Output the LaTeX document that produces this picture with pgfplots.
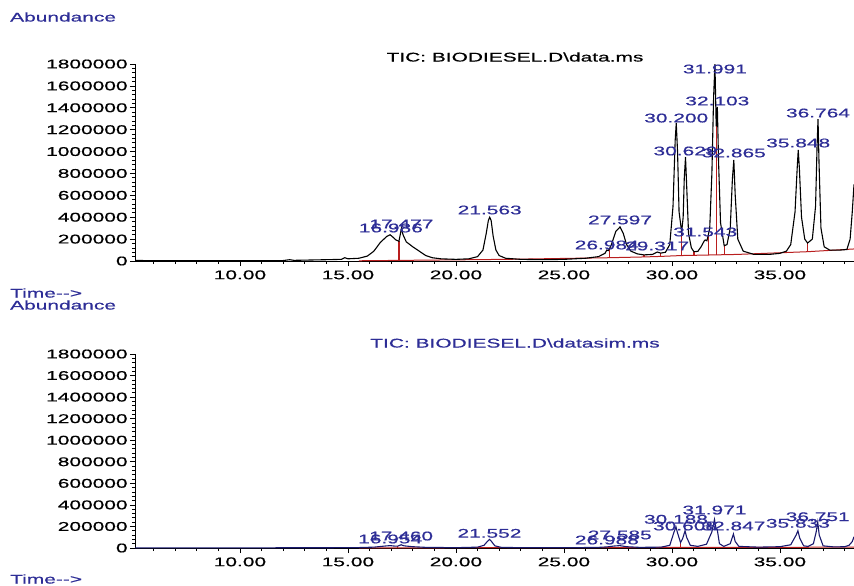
\documentclass[border=0pt]{standalone}
\usepackage{fontspec}
\setmainfont{Liberation Sans}[FakeStretch=1.66, FakeBold=0.6]
\usepackage{pgfplots}
\pgfplotsset{compat=1.18}
\definecolor{txtblue}{RGB}{45,45,150}
\definecolor{trblue}{RGB}{25,25,110}
\definecolor{intred}{RGB}{185,30,30}
\tikzset{lbl/.style={text=txtblue, inner sep=0pt, font=\fontsize{12.6}{15}\selectfont}}
\pgfplotsset{chrom/.style={
  scale only axis, width=719pt,
  xmin=5.14, xmax=38.43, ymin=0, ymax=1800000,
  axis x line=bottom, axis y line=left,
  axis line style={-, black, line width=0.8pt},
  xtick={10,15,20,25,30,35},
  xticklabels={10.00,15.00,20.00,25.00,30.00,35.00},
  minor xtick={6,7,8,9,11,12,13,14,16,17,18,19,21,22,23,24,26,27,28,29,31,32,33,34,36,37,38},
  ytick={0,200000,400000,600000,800000,1000000,1200000,1400000,1600000,1800000},
  yticklabels={0,200000,400000,600000,800000,1000000,1200000,1400000,1600000,1800000},
  minor y tick num=4,
  scaled y ticks=false,
  tick align=outside, major tick length=5pt, minor tick length=3pt,
  every tick/.style={black, line width=0.7pt},
  ticklabel style={font=\fontsize{12.6}{15}\selectfont, text=black},
  yticklabel style={xshift=2pt},
  /pgf/number format/assume math mode=true,
  clip mode=individual,
}}
\begin{document}
\fontsize{12.6}{15}\selectfont
\begin{tikzpicture}
\useasboundingbox (0,0) rectangle (854pt,-586pt);
\node[anchor=west, text=txtblue, inner sep=0pt] at (10pt,-17pt) {Abundance};
\node[anchor=west, text=txtblue, inner sep=0pt] at (10pt,-293pt) {Time-{}-{}>};
\node[anchor=west, text=txtblue, inner sep=0pt] at (10pt,-305pt) {Abundance};
\node[anchor=west, text=txtblue, inner sep=0pt] at (10pt,-579pt) {Time-{}-{}>};
\node[text=black, inner sep=0pt] at (515pt,-57pt) {TIC: BIODIESEL.D\textbackslash data.ms};
\node[text=txtblue, inner sep=0pt] at (515pt,-343pt) {TIC: BIODIESEL.D\textbackslash datasim.ms};

% ---------- top panel ----------
\begin{axis}[chrom, at={(135pt,-261pt)}, anchor=south west, height=197pt]
\addplot[intred, line width=1pt] coordinates {
 (15.5,2000) (22.3,15000) (27.1,30000) (28.7,37000) (29.48,42000) (30.45,50000)
 (31.02,52000) (33,60000) (36.28,85000) (38.43,110000)};
\addplot[intred, line width=1.3pt, unbounded coords=jump] coordinates {
 (17.36,5000) (17.36,180000) (17.36,nan)
 (27.1,30000) (27.1,110000) (27.1,nan)
 (28.7,37000) (28.7,56000) (28.7,nan)
 (29.48,42000) (29.48,72000) (29.48,nan)
 (30.45,50000) (30.45,265000) (30.45,nan)
 (31.02,52000) (31.02,85000) (31.02,nan)
 (31.68,55000) (31.68,235000) (31.68,nan)
 (32.05,58000) (32.05,1230000) (32.05,nan)
 (32.42,60000) (32.42,140000) (32.42,nan)
 (36.28,85000) (36.28,164000)};
\addplot[black, line width=1.1pt] coordinates {
 (5.14,5000) (6,3000) (8,3000) (10,3000) (12,4000) (12.3,12000) (12.5,6000)
 (14,12000) (14.7,15000) (14.85,30000) (15.0,20000) (15.5,25000) (15.9,45000)
 (16.2,90000) (16.5,170000) (16.8,225000) (16.95,240000) (17.1,215000)
 (17.2,195000) (17.36,180000) (17.42,240000) (17.477,300000) (17.55,240000)
 (17.7,175000) (18.0,130000) (18.3,90000) (18.6,50000) (18.9,30000)
 (19.3,20000) (20.0,15000) (20.6,20000) (21.0,40000) (21.25,100000)
 (21.4,250000) (21.5,370000) (21.563,400000) (21.63,370000) (21.72,230000)
 (21.85,100000) (22.0,50000) (22.3,25000) (23,15000) (24,12000) (25,15000)
 (26,25000) (26.6,40000) (26.9,70000) (26.984,100000) (27.05,95000)
 (27.1,110000) (27.2,150000) (27.4,270000) (27.597,311000) (27.75,250000)
 (27.9,150000) (28.1,90000) (28.4,65000) (28.7,56000) (29.1,60000)
 (29.317,82000) (29.48,72000) (29.7,80000) (29.9,150000) (30.05,500000)
 (30.15,1100000) (30.2,1261000) (30.26,1000000) (30.33,450000)
 (30.45,265000) (30.52,400000) (30.57,750000) (30.629,950000) (30.69,650000)
 (30.77,250000) (30.9,120000) (31.02,85000) (31.2,88000) (31.35,130000)
 (31.5,185000) (31.543,192000) (31.62,185000) (31.68,235000) (31.75,300000)
 (31.85,800000) (31.93,1500000) (31.991,1800000) (32.05,1230000)
 (32.103,1407000) (32.16,900000) (32.25,350000) (32.42,140000) (32.55,150000)
 (32.7,300000) (32.8,750000) (32.865,923000) (32.93,600000) (33.05,200000)
 (33.3,90000) (33.8,60000) (34.5,60000) (35.0,70000) (35.3,90000)
 (35.5,150000) (35.7,450000) (35.8,850000) (35.848,1014000) (35.9,850000)
 (36.0,400000) (36.15,200000) (36.28,164000) (36.5,200000) (36.65,500000)
 (36.72,1050000) (36.764,1297000) (36.81,900000) (36.9,300000)
 (37.05,130000) (37.3,100000) (37.8,100000) (38.1,105000) (38.25,200000)
 (38.35,450000) (38.43,700000)};
\node[lbl] at (axis cs:16.986,301500) {16.986};
\node[lbl] at (axis cs:17.477,338000) {17.477};
\node[lbl] at (axis cs:21.563,466000) {21.563};
\node[lbl] at (axis cs:26.984,146000) {26.984};
\node[lbl] at (axis cs:27.597,375000) {27.597};
\node[lbl] at (axis cs:29.317,137000) {29.317};
\node[lbl] at (axis cs:30.200,1306000) {30.200};
\node[lbl] at (axis cs:30.629,1005000) {30.629};
\node[lbl] at (axis cs:31.543,265000) {31.543};
\node[lbl] at (axis cs:31.991,1754000) {31.991};
\node[lbl] at (axis cs:32.103,1462000) {32.103};
\node[lbl] at (axis cs:32.865,987000) {32.865};
\node[lbl] at (axis cs:35.848,1078000) {35.848};
\node[lbl] at (axis cs:36.764,1352000) {36.764};
\end{axis}

% ---------- bottom panel ----------
\begin{axis}[chrom, at={(135pt,-548pt)}, anchor=south west, height=194pt]
\addplot[intred, line width=1pt] coordinates {
 (15.5,1500) (22.3,3000) (27.1,4000) (30.4,5000) (33,6000) (36.3,7000) (38.43,8000)};
\addplot[intred, line width=1.2pt, unbounded coords=jump] coordinates {
 (17.3,2000) (17.3,17000) (17.3,nan)
 (30.4,5000) (30.4,50000) (30.4,nan)
 (36.3,7000) (36.3,15000)};
\addplot[trblue, line width=1.1pt] coordinates {
 (5.14,1500) (10,1500) (14,2500) (15.5,4000) (16.2,8000) (16.7,18000)
 (16.95,22000) (17.2,17000) (17.3,17000) (17.46,30000) (17.6,20000) (18.0,12000)
 (18.6,6000) (20.0,3000) (21.0,8000) (21.3,25000) (21.45,60000)
 (21.552,80000) (21.65,60000) (21.8,20000) (22.1,6000) (23,3000) (25,3000)
 (26.5,5000) (26.988,10000) (27.3,18000) (27.585,22000) (27.9,12000)
 (28.5,6000) (29.5,8000) (29.9,25000) (30.1,150000) (30.188,195000)
 (30.26,140000) (30.4,50000) (30.5,90000) (30.608,160000) (30.68,100000)
 (30.85,25000) (31.2,15000) (31.6,35000) (31.85,150000) (31.971,265000)
 (32.04,180000) (32.1,170000) (32.2,40000) (32.4,15000) (32.7,40000)
 (32.847,130000) (32.93,60000) (33.1,15000) (34,8000) (35,12000)
 (35.5,30000) (35.75,120000) (35.833,160000) (35.92,90000) (36.1,20000)
 (36.3,15000) (36.55,40000) (36.68,150000) (36.751,240000) (36.82,120000)
 (37.0,20000) (37.5,10000) (38.0,12000) (38.2,25000) (38.35,60000)
 (38.43,105000)};
\node[lbl] at (axis cs:16.954,83500) {16.954};
\node[lbl] at (axis cs:17.460,111000) {17.460};
\node[lbl] at (axis cs:21.552,136000) {21.552};
\node[lbl] at (axis cs:26.988,74000) {26.988};
\node[lbl] at (axis cs:27.585,121000) {27.585};
\node[lbl] at (axis cs:30.188,266000) {30.188};
\node[lbl] at (axis cs:30.608,204000) {30.608};
\node[lbl] at (axis cs:31.971,352000) {31.971};
\node[lbl] at (axis cs:32.847,204000) {32.847};
\node[lbl] at (axis cs:35.833,229000) {35.833};
\node[lbl] at (axis cs:36.751,290000) {36.751};
\end{axis}
\end{tikzpicture}
\end{document}
